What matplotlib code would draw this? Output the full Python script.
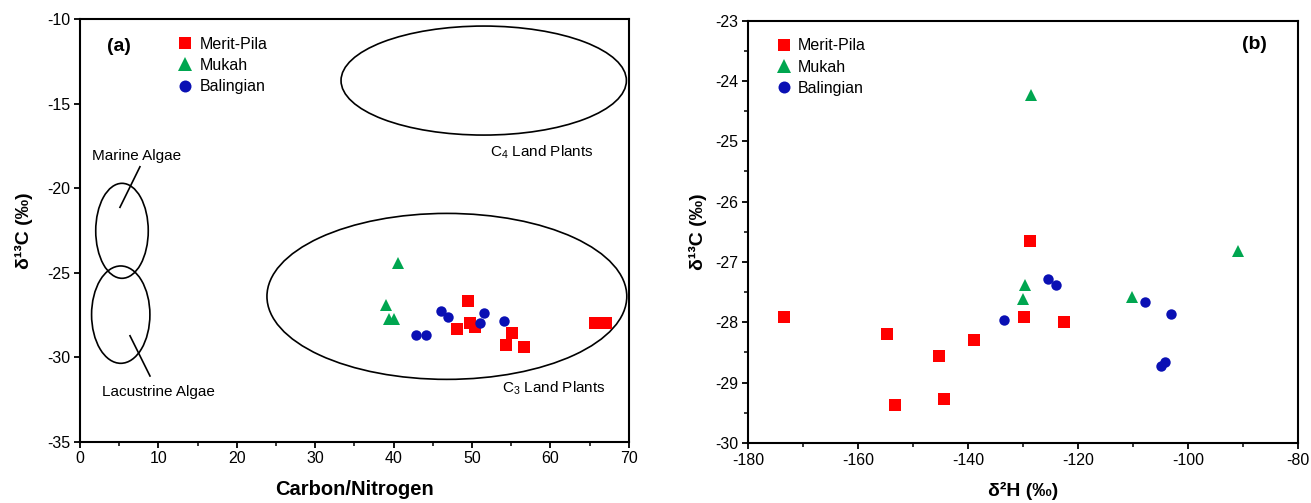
import matplotlib
matplotlib.use("Agg")
import matplotlib.pyplot as plt
from matplotlib.patches import Ellipse
from matplotlib.ticker import MultipleLocator

plt.rcParams['font.family'] = ['Liberation Sans', 'DejaVu Sans']
plt.rcParams['mathtext.fontset'] = 'custom'
plt.rcParams['mathtext.rm'] = 'Liberation Sans'
plt.rcParams['axes.unicode_minus'] = False

RED = '#FF0000'
GREEN = '#00A650'
BLUE = '#0A10B4'

# panel (a): C/N vs d13C
mp_cn = [49.5, 48.1, 49.7, 50.4, 55.1, 54.4, 56.7, 65.7, 67.1]
mp_c13a = [-26.69, -28.33, -27.96, -28.23, -28.59, -29.30, -29.40, -27.96, -27.96]
mu_cn = [40.6, 39.0, 39.4, 40.05]
mu_c13a = [-24.4, -26.9, -27.75, -27.75]
ba_cn = [42.8, 44.1, 46.0, 46.9, 51.5, 51.0, 54.1]
ba_c13a = [-28.69, -28.69, -27.27, -27.60, -27.37, -28.00, -27.86]

# source fields (center x, center y, width, height)
fields = {
    'C4': (51.5, -13.63, 36.4, 6.45),
    'C3': (46.8, -26.40, 45.9, 9.82),
    'marine': (5.36, -22.52, 6.7, 5.62),
    'lacustrine': (5.2, -27.48, 7.44, 5.76),
}

# panel (b): d2H vs d13C
mp_h2 = [-173.4, -154.7, -145.3, -153.3, -144.4, -139.0, -129.9, -128.8, -122.5]
mp_c13b = [-27.92, -28.20, -28.56, -29.37, -29.27, -28.30, -27.92, -26.65, -27.99]
mu_h2 = [-128.6, -129.7, -130.0, -110.2, -90.9]
mu_c13b = [-24.23, -27.38, -27.62, -27.58, -26.81]
ba_h2 = [-125.4, -124.0, -133.5, -107.9, -103.1, -105.0, -104.2]
ba_c13b = [-27.29, -27.39, -27.96, -27.66, -27.86, -28.73, -28.66]

sites = ['Merit-Pila', 'Mukah', 'Balingian']

fig = plt.figure(figsize=(13.11, 5.03), dpi=100)
ax1 = fig.add_axes([0.061, 0.1218, 0.4186, 0.84])
ax2 = fig.add_axes([0.5706, 0.1195, 0.4195, 0.8393])


def style_axes(ax):
    for s in ax.spines.values():
        s.set_linewidth(1.5)
    ax.tick_params(which='major', direction='out', length=4, width=1.3,
                   labelsize=11.5, pad=3)
    ax.tick_params(which='minor', direction='out', length=3, width=1.1)


def scatter_sites(ax, data):
    styles = [('s', RED, 8), ('^', GREEN, 8.8), ('o', BLUE, 7.5)]
    for (x, y), name, (m, c, ms) in zip(data, sites, styles):
        ax.plot(x, y, linestyle='none', marker=m, color=c, markersize=ms,
                markeredgewidth=0, label=name, zorder=3)


def add_legend(ax, x, y):
    ax.legend(loc='upper left', bbox_to_anchor=(x, y), frameon=False,
              fontsize=11.5, handlelength=1.0, handletextpad=0.4,
              labelspacing=0.38, borderpad=0, borderaxespad=0, markerscale=1.15)


# ---- panel (a)
scatter_sites(ax1, [(mp_cn, mp_c13a), (mu_cn, mu_c13a), (ba_cn, ba_c13a)])
for cx, cy, w, h in fields.values():
    ax1.add_patch(Ellipse((cx, cy), w, h, fill=False, edgecolor='black', lw=1.2))
ax1.plot([7.65, 5.1], [-18.73, -21.13], color='black', lw=1.2)
ax1.plot([6.38, 8.93], [-28.73, -31.11], color='black', lw=1.2)
ax1.text(1.5, -18.1, 'Marine Algae', fontsize=11, va='center')
ax1.text(2.8, -32.04, 'Lacustrine Algae', fontsize=11, va='center')
ax1.text(52.3, -17.85, r'C$_\mathregular{4}$ Land Plants', fontsize=11, va='center')
ax1.text(53.8, -31.8, r'C$_\mathregular{3}$ Land Plants', fontsize=11, va='center')
ax1.text(3.4, -11.63, '(a)', fontsize=14, fontweight='bold', va='center')

ax1.set_xlim(0, 70)
ax1.set_ylim(-35, -10)
ax1.xaxis.set_major_locator(MultipleLocator(10))
ax1.xaxis.set_minor_locator(MultipleLocator(5))
ax1.yaxis.set_major_locator(MultipleLocator(5))
ax1.set_xlabel('Carbon/Nitrogen', fontsize=14.5, fontweight='bold', labelpad=10)
ax1.set_ylabel('δ¹³C (‰)', fontsize=14, fontweight='bold', labelpad=10)
style_axes(ax1)
add_legend(ax1, 0.177, 0.958)

# ---- panel (b)
scatter_sites(ax2, [(mp_h2, mp_c13b), (mu_h2, mu_c13b), (ba_h2, ba_c13b)])
ax2.text(-90.2, -23.4, '(b)', fontsize=14, fontweight='bold', va='center')
ax2.set_xlim(-180, -80)
ax2.set_ylim(-30, -23)
ax2.xaxis.set_major_locator(MultipleLocator(20))
ax2.xaxis.set_minor_locator(MultipleLocator(10))
ax2.yaxis.set_major_locator(MultipleLocator(1))
ax2.yaxis.set_minor_locator(MultipleLocator(0.5))
ax2.set_xlabel('δ²H (‰)', fontsize=14, fontweight='bold', labelpad=10)
ax2.set_ylabel('δ¹³C (‰)', fontsize=14, fontweight='bold', labelpad=6)
style_axes(ax2)
add_legend(ax2, 0.05, 0.958)

fig.savefig('out.png', dpi=100)
